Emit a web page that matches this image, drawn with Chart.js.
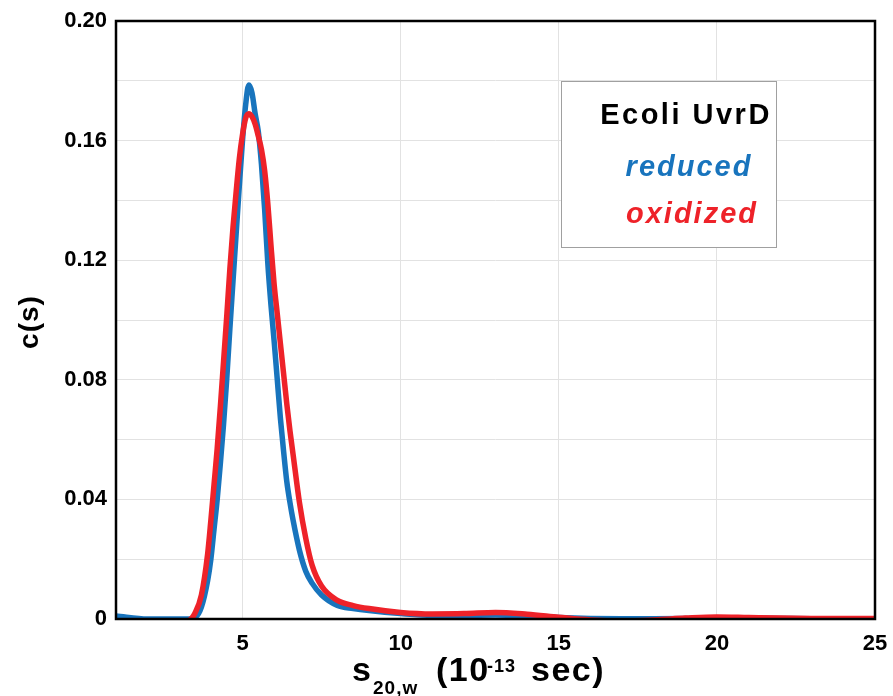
<!DOCTYPE html>
<html>
<head>
<meta charset="utf-8">
<script src="https://cdn.jsdelivr.net/npm/chart.js@4.4.1/dist/chart.umd.min.js"></script>
<style>
  body { margin: 0; background: #fff; }
  canvas { display: block; }
</style>
</head>
<body>
<canvas id="csChart" width="893" height="696"></canvas>
<script>
// sedimentation coefficient s20,w (10^-13 sec)
const sValues = [1, 2, 3, 3.3, 3.5, 3.7, 3.9, 4.0, 4.1, 4.2, 4.3, 4.4, 4.5, 4.6, 4.7, 4.8, 4.9,
  5.0, 5.1, 5.2, 5.3, 5.4, 5.5, 5.6, 5.7, 5.8, 5.9, 6.0, 6.1, 6.2, 6.3, 6.4, 6.5, 6.6, 6.8,
  7.0, 7.2, 7.5, 8, 8.5, 9, 10, 11, 12, 13, 14, 15, 16, 17, 18, 19, 20, 21, 22, 23, 24, 25];

const reducedCs = [0.001, 0.0, 0.0, 0.0, 0.0005, 0.004, 0.013, 0.020, 0.030, 0.040, 0.052, 0.065, 0.080,
  0.097, 0.113, 0.129, 0.145, 0.160, 0.172, 0.1786, 0.176, 0.169, 0.163, 0.152, 0.137, 0.119, 0.105,
  0.093, 0.080, 0.067, 0.056, 0.046, 0.039, 0.033, 0.023, 0.016, 0.012, 0.008, 0.0045, 0.0035, 0.0028,
  0.0018, 0.0012, 0.0012, 0.0013, 0.001, 0.0005, 0.0002, 0.0001, 0.0001, 0.0002, 0.0004, 0.0003,
  0.0002, 0.0001, 0.0001, 0.0001];

const oxidizedCs = [-0.001, -0.001, -0.001, -0.0005, 0.002, 0.008, 0.022, 0.033, 0.045, 0.057, 0.071,
  0.086, 0.101, 0.117, 0.131, 0.143, 0.154, 0.162, 0.1675, 0.169, 0.168, 0.1655, 0.1615, 0.157, 0.150,
  0.139, 0.125, 0.112, 0.102, 0.092, 0.082, 0.072, 0.063, 0.055, 0.039, 0.027, 0.018, 0.011, 0.0062,
  0.0045, 0.0035, 0.0022, 0.0017, 0.0018, 0.0022, 0.0016, 0.0006, -0.0003, -0.0006, -0.0003, 0.0003,
  0.0007, 0.0005, 0.0003, 0.0002, 0.0002, 0.0002];

const xTicks = [5, 10, 15, 20, 25];
const yTicks = [0, 0.02, 0.04, 0.06, 0.08, 0.10, 0.12, 0.14, 0.16, 0.18, 0.20];
const yLabelTicks = [0, 0.04, 0.08, 0.12, 0.16, 0.20];

const legendTitle = "Ecoli UvrD";
const seriesNames = ["reduced", "oxidized"];
const seriesColors = ["#1874bd", "#ee2229"];

const FONT = "'Liberation Sans', Arial, Helvetica, sans-serif";

function toPoints(ys) {
  return sValues.map((x, i) => ({ x: x, y: ys[i] }));
}

const framePlugin = {
  id: "frame",
  afterDatasetsDraw(chart) {
    const ctx = chart.ctx;
    const a = chart.chartArea;
    ctx.save();
    ctx.strokeStyle = "#000";
    ctx.lineWidth = 2.5;
    ctx.strokeRect(a.left, a.top, a.right - a.left, a.bottom - a.top);

    // legend box
    const bx = a.left + 445, by = a.top + 60, bw = 215, bh = 166;
    ctx.fillStyle = "#fff";
    ctx.fillRect(bx, by, bw, bh);
    ctx.strokeStyle = "#a0a0a0";
    ctx.lineWidth = 1;
    ctx.strokeRect(bx + 0.5, by + 0.5, bw, bh);
    ctx.textAlign = "center";
    ctx.textBaseline = "middle";
    ctx.letterSpacing = "2.5px";
    ctx.fillStyle = "#000";
    ctx.font = "bold 29px " + FONT;
    ctx.fillText(legendTitle, bx + 125, by + 35);
    ctx.letterSpacing = "2px";
    ctx.font = "italic bold 29px " + FONT;
    ctx.fillStyle = seriesColors[0];
    ctx.fillText(seriesNames[0], bx + 128, by + 87);
    ctx.fillStyle = seriesColors[1];
    ctx.fillText(seriesNames[1], bx + 131, by + 134);

    // y title
    ctx.letterSpacing = "1px";
    ctx.fillStyle = "#000";
    ctx.font = "bold 28px " + FONT;
    ctx.translate(30, 322);
    ctx.rotate(-Math.PI / 2);
    ctx.fillText("c(s)", 0, 0);
    ctx.restore();

    // x title with sub/superscript
    ctx.save();
    ctx.fillStyle = "#000";
    ctx.textAlign = "left";
    ctx.textBaseline = "alphabetic";
    const base = 681;
    ctx.letterSpacing = "1.5px";
    ctx.font = "bold 34px " + FONT;
    ctx.fillText("s", 352, base);
    ctx.letterSpacing = "1px";
    ctx.font = "bold 19px " + FONT;
    ctx.fillText("20,w", 373, base + 13);
    ctx.letterSpacing = "1.5px";
    ctx.font = "bold 34px " + FONT;
    ctx.fillText("(10", 436, base);
    ctx.letterSpacing = "1px";
    ctx.font = "bold 18px " + FONT;
    ctx.fillText("-13", 487, base - 9);
    ctx.letterSpacing = "1.5px";
    ctx.font = "bold 34px " + FONT;
    ctx.fillText("sec)", 531, base);
    ctx.restore();
  }
};

new Chart(document.getElementById("csChart").getContext("2d"), {
  type: "line",
  data: {
    datasets: [
      {
        label: seriesNames[0],
        data: toPoints(reducedCs),
        borderColor: seriesColors[0],
        borderWidth: 5.5,
        pointRadius: 0,
        cubicInterpolationMode: "monotone",
        fill: false,
        order: 2,
      },
      {
        label: seriesNames[1],
        data: toPoints(oxidizedCs),
        borderColor: seriesColors[1],
        borderWidth: 5.5,
        pointRadius: 0,
        cubicInterpolationMode: "monotone",
        fill: false,
        order: 1,
      },
    ],
  },
  options: {
    responsive: false,
    animation: false,
    layout: { padding: { left: 0, top: 21, right: 18, bottom: 0 } },
    plugins: {
      legend: { display: false },
      tooltip: { enabled: false },
    },
    scales: {
      x: {
        type: "linear",
        min: 1,
        max: 25,
        afterBuildTicks: (axis) => { axis.ticks = xTicks.map((v) => ({ value: v })); },
        afterFit: (axis) => {
          axis.height = 77;
          axis.paddingLeft = 0;
          axis.paddingRight = 0;
        },
        ticks: {
          color: "#000",
          padding: 12,
          maxRotation: 0,
          font: { family: FONT, size: 22, weight: "bold" },
        },
        grid: { color: "#e2e2e2", lineWidth: 1, drawTicks: false },
        border: { display: false },
      },
      y: {
        min: 0,
        max: 0.2,
        afterBuildTicks: (axis) => { axis.ticks = yTicks.map((v) => ({ value: v })); },
        afterFit: (axis) => {
          axis.width = 116;
          axis.paddingTop = 0;
          axis.paddingBottom = 0;
        },
        ticks: {
          color: "#000",
          padding: 9,
          font: { family: FONT, size: 22, weight: "bold" },
          callback: (v) => {
            const hit = yLabelTicks.some((t) => Math.abs(t - v) < 1e-9);
            if (!hit) return "";
            return v === 0 ? "0" : v.toFixed(2);
          },
        },
        grid: { color: "#e2e2e2", lineWidth: 1, drawTicks: false },
        border: { display: false },
      },
    },
  },
  plugins: [framePlugin],
});
</script>
</body>
</html>
